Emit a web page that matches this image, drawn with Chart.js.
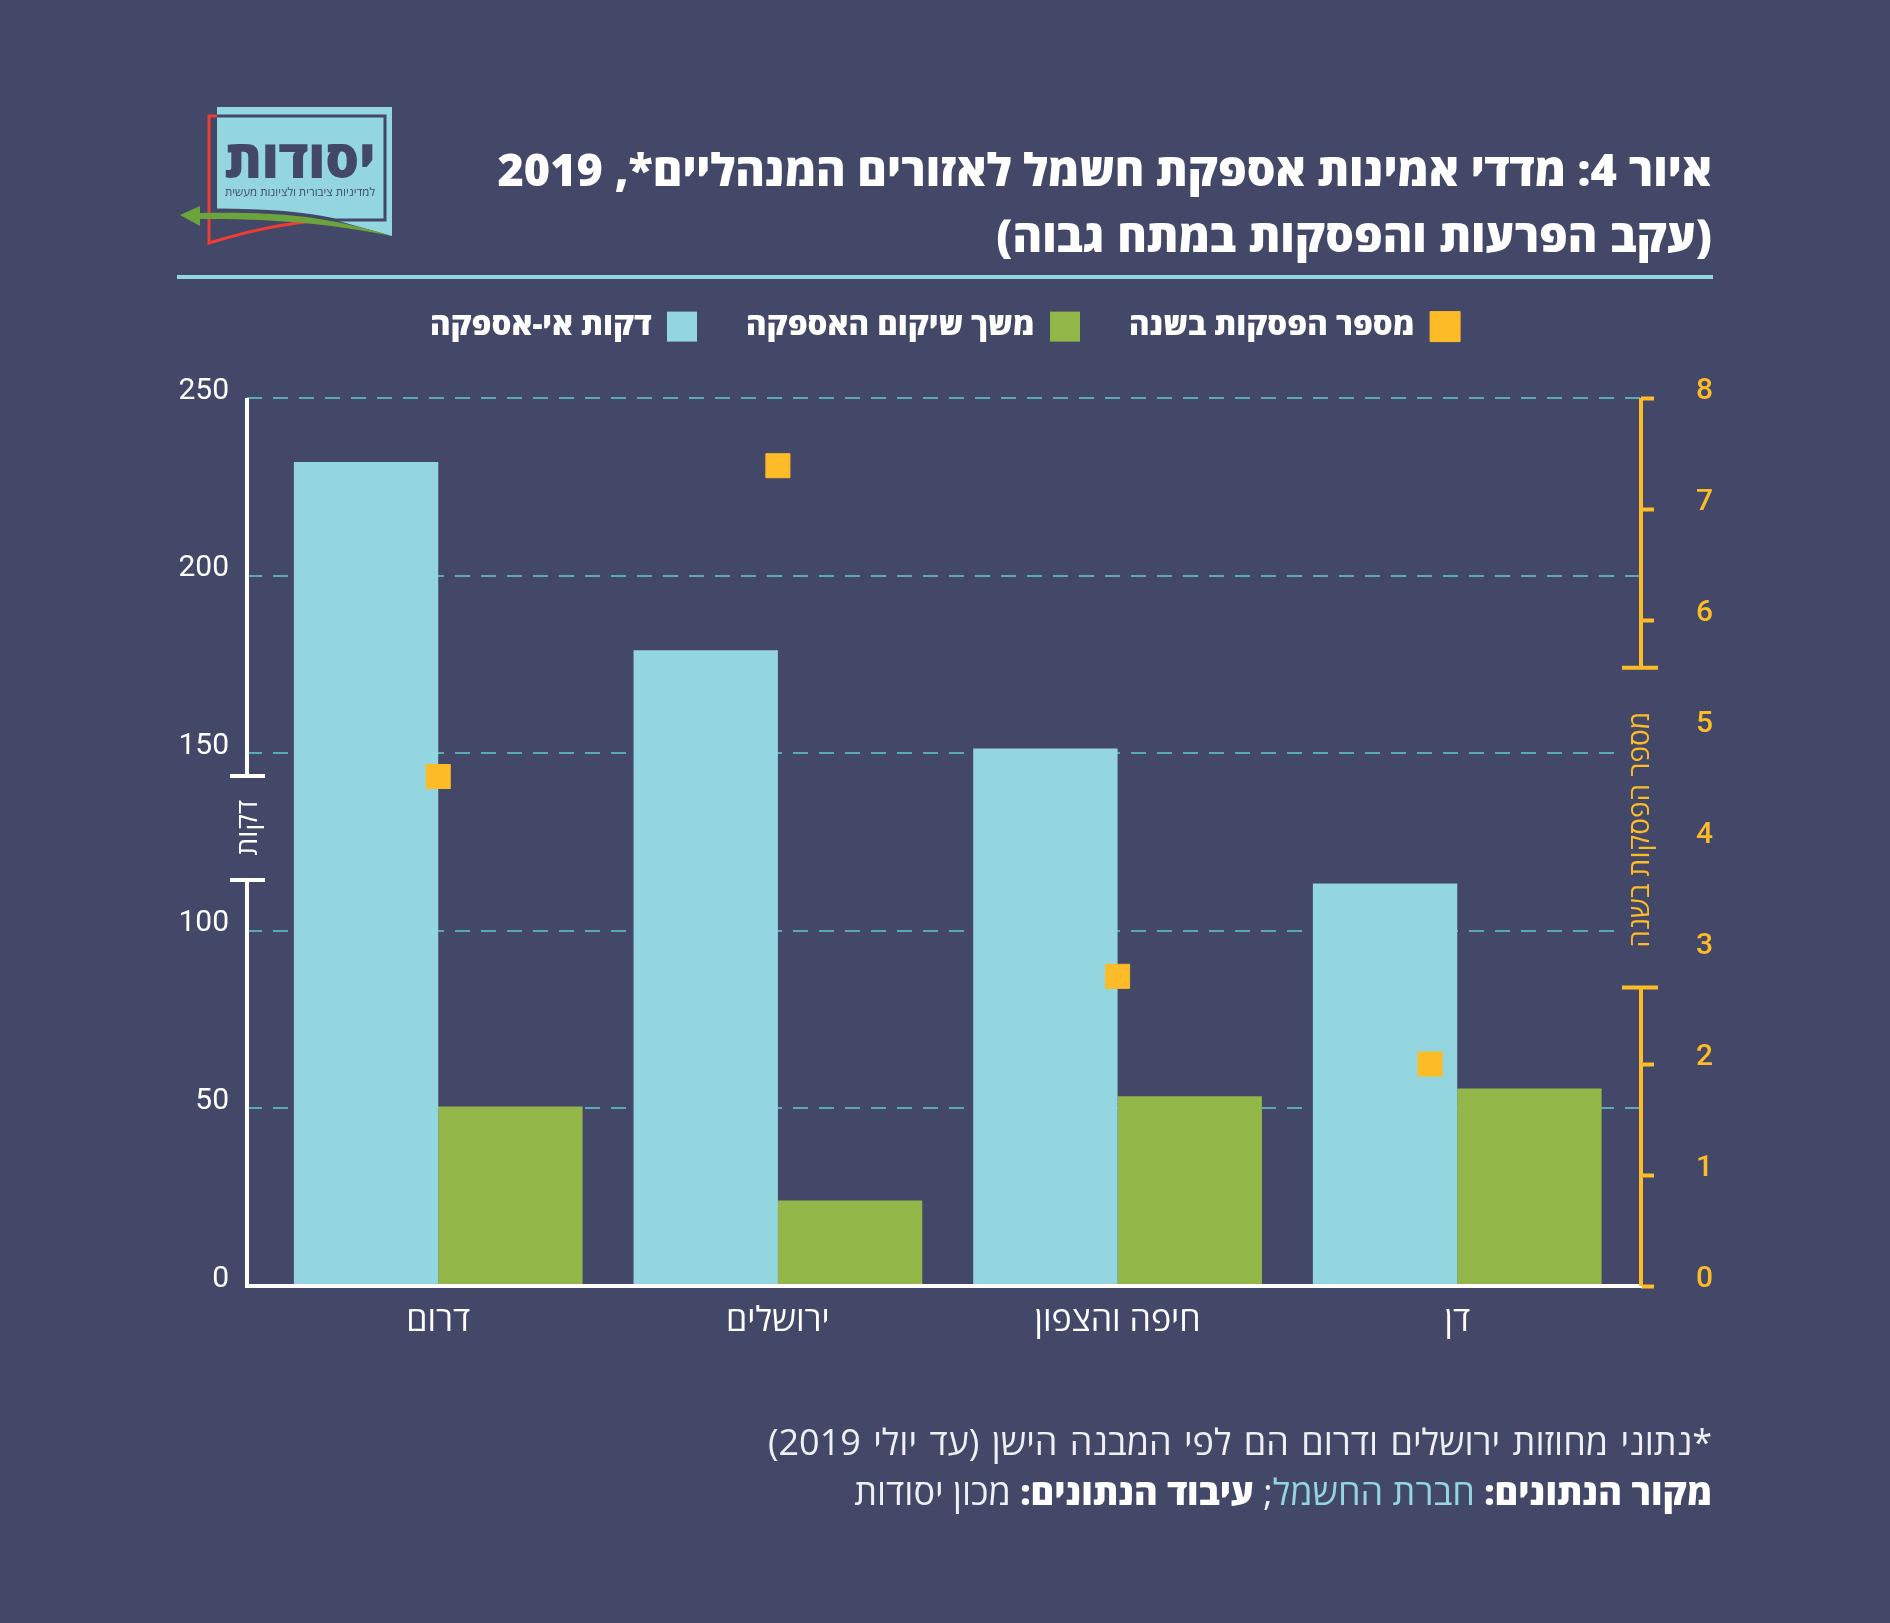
<!DOCTYPE html>
<html lang="he">
<head>
<meta charset="utf-8">
<script src="https://cdn.jsdelivr.net/npm/chart.js@4/dist/chart.umd.min.js"></script>
<style>
    html, body { margin: 0; background: #434868; }
    #page { position: relative; width: 1890px; height: 1623px; overflow: hidden; font-family: Roboto, "Open Sans", sans-serif; color: #fff; }
    #chart { position: absolute; left: 0; top: 0; }
    .title { position: absolute; right: 178px; top: 136px; direction: rtl; white-space: nowrap; font-family: "Open Sans", sans-serif; font-weight: 800; font-size: 45px; line-height: 66px; text-align: right; }
    .title .sub { word-spacing: 1px; }
    .rule { position: absolute; left: 177px; top: 275px; width: 1536px; height: 4px; background: #93d6e0; }
    .notes { position: absolute; right: 178px; top: 1417px; direction: rtl; white-space: nowrap; font-family: "Open Sans", sans-serif; font-size: 36px; line-height: 50px; text-align: right; color: #eef0f4; }
    .notes .first { word-spacing: 3px; }
    .notes b { font-weight: 800; color: #fff; }
    .notes span.src { color: #93d6e0; }
    #logo { position: absolute; left: 170px; top: 100px; }
</style>
</head>
<body>
<div id="page">
    <canvas id="chart" width="1890" height="1623"></canvas>
    <svg id="logo" width="230" height="150" viewBox="170 100 230 150">
        <path d="M217 107H392V236L335 220C300 212 260 210 217 210Z" fill="#93d6e0"/>
        <path d="M217 116H385V220H335C300 212 260 210 217 210" fill="none" stroke="#434868" stroke-width="3"/>
        <path d="M217 116H209V243C245 232 280 224 315 221" fill="none" stroke="#ee3d33" stroke-width="3"/>
        <path d="M180 215L200 206V213C270 212 320 214 392 236C320 222 270 219 200 219V226Z" fill="#6ba33c"/>
        <text x="300" y="178" direction="rtl" text-anchor="middle" font-family="Open Sans" font-weight="800" font-size="53" fill="#434868">יסודות</text>
        <text x="300" y="196" direction="rtl" text-anchor="middle" font-family="Open Sans" font-size="11.5" fill="#434868">למדיניות ציבורית ולציונות מעשית</text>
    </svg>
    <div class="title">איור 4: מדדי אמינות אספקת חשמל לאזורים המנהליים*, 2019<br><span class="sub">(עקב הפרעות והפסקות במתח גבוה)</span></div>
    <div class="rule"></div>
    <div class="notes"><span class="first">*נתוני מחוזות ירושלים ודרום הם לפי המבנה הישן (עד יולי 2019)</span><br><b>מקור הנתונים:</b> <span class="src">חברת החשמל</span>; <b>עיבוד הנתונים:</b> מכון יסודות</div>
</div>
<script>
const categories = ['דרום', 'ירושלים', 'חיפה והצפון', 'דן'];
const outageMinutes = [232, 179, 151.3, 113.3];
const restoreMinutes = [50.5, 24.1, 53.4, 55.6];
const outagesPerYear = [4.59, 7.39, 2.79, 2.0];
// the last square sits left of its group centre in the original
const outageSlots = [0, 1, 2, 2.92];

const minutesTicks = [0, 50, 100, 150, 200, 250];
const outageTicks = [0, 1, 2, 3, 4, 5, 6, 7, 8];

const BG = '#434868';
const BLUE = '#93d6e0';
const GREEN = '#92b648';
const YELLOW = '#fdbb27';
const TITLE_FONT = '"Open Sans", sans-serif';

// the two axes are broken around their titles
const brokenAxes = {
    id: 'brokenAxes',
    beforeLayout(chart) {
        // legend.update() never calls afterFit, so pin the height through fit
        const legend = chart.legend;
        if (!legend.pinned) {
            const fit = legend.fit;
            legend.fit = function () {
                fit.call(this);
                this.height = 136;
            };
            legend.pinned = true;
        }
    },
    beforeDatasetsDraw(chart) {
        const y1 = chart.scales.y1;
        const ctx = chart.ctx;
        ctx.save();
        ctx.fillStyle = BG;
        ctx.fillRect(1618, y1.getPixelForValue(5.57), 50, y1.getPixelForValue(2.69) - y1.getPixelForValue(5.57));
        ctx.restore();
    },
    afterDraw(chart) {
        const { y, y1 } = chart.scales;
        const ctx = chart.ctx;
        const left = chart.chartArea.left;
        const right = chart.chartArea.right;
        ctx.save();
        ctx.lineWidth = 4;

        ctx.strokeStyle = '#fff';
        ctx.beginPath();
        ctx.moveTo(left, y.getPixelForValue(250));
        ctx.lineTo(left, y.getPixelForValue(143.6));
        ctx.moveTo(left - 17, y.getPixelForValue(143.6));
        ctx.lineTo(left + 18, y.getPixelForValue(143.6));
        ctx.moveTo(left - 17, y.getPixelForValue(114.3));
        ctx.lineTo(left + 18, y.getPixelForValue(114.3));
        ctx.moveTo(left, y.getPixelForValue(114.3));
        ctx.lineTo(left, y.getPixelForValue(0) + 2);
        ctx.stroke();

        ctx.strokeStyle = YELLOW;
        ctx.beginPath();
        ctx.moveTo(right, y1.getPixelForValue(8));
        ctx.lineTo(right, y1.getPixelForValue(5.57));
        ctx.moveTo(right - 19, y1.getPixelForValue(5.57));
        ctx.lineTo(right + 17, y1.getPixelForValue(5.57));
        ctx.moveTo(right - 19, y1.getPixelForValue(2.69));
        ctx.lineTo(right + 17, y1.getPixelForValue(2.69));
        ctx.moveTo(right, y1.getPixelForValue(2.69));
        ctx.lineTo(right, y1.getPixelForValue(0));
        ctx.stroke();

        ctx.textAlign = 'center';
        ctx.textBaseline = 'middle';
        ctx.direction = 'rtl';
        ctx.save();
        ctx.translate(left + 2, y.getPixelForValue(129));
        ctx.rotate(-Math.PI / 2);
        ctx.fillStyle = '#fff';
        ctx.font = '28px ' + TITLE_FONT;
        ctx.fillText('דקות', 0, 0);
        ctx.restore();
        ctx.save();
        ctx.translate(right, y1.getPixelForValue(4.11));
        ctx.rotate(-Math.PI / 2);
        ctx.fillStyle = YELLOW;
        ctx.font = '28px ' + TITLE_FONT;
        ctx.fillText('מספר הפסקות בשנה', 0, 0);
        ctx.restore();
        ctx.restore();
    }
};

const ctx = document.getElementById('chart').getContext('2d');
const chart = new Chart(ctx, {
    type: 'bar',
    data: {
        datasets: [{
            label: 'דקות אי-אספקה',
            data: outageMinutes.map((v, i) => ({ x: i, y: v })),
            backgroundColor: BLUE,
            yAxisID: 'y',
            order: 1
        }, {
            label: 'משך שיקום האספקה',
            data: restoreMinutes.map((v, i) => ({ x: i, y: v })),
            backgroundColor: GREEN,
            yAxisID: 'y',
            order: 1
        }, {
            type: 'scatter',
            label: 'מספר הפסקות בשנה',
            data: outagesPerYear.map((v, i) => ({ x: outageSlots[i], y: v })),
            backgroundColor: YELLOW,
            borderColor: YELLOW,
            pointStyle: 'rect',
            pointRadius: 17,
            yAxisID: 'y1',
            order: 0
        }]
    },
    options: {
        responsive: false,
        animation: false,
        devicePixelRatio: 1,
        categoryPercentage: 0.85,
        barPercentage: 1,
        layout: { padding: { top: 262, right: 0, left: 0, bottom: 0 } },
        plugins: {
            tooltip: { enabled: false },
            legend: {
                position: 'top',
                rtl: true,
                textDirection: 'rtl',
                labels: {
                    boxWidth: 30,
                    boxHeight: 30,
                    padding: 49,
                    color: '#fff',
                    font: { family: TITLE_FONT, size: 31.2, weight: '800' },
                    sort: (a, b) => b.datasetIndex - a.datasetIndex
                }
            }
        },
        scales: {
            x: {
                type: 'linear',
                offset: false,
                min: -0.563,
                max: 3.541,
                afterFit: (scale) => { scale.height = 337; },
                grid: { display: false, drawTicks: false },
                border: { color: '#fff', width: 4, z: 1 },
                ticks: {
                    stepSize: 1,
                    includeBounds: false,
                    autoSkip: false,
                    maxRotation: 0,
                    padding: 15,
                    color: '#fff',
                    font: { family: TITLE_FONT, size: 34, weight: '500' },
                    callback: (value) => categories[value]
                }
            },
            y: {
                position: 'left',
                min: minutesTicks[0],
                max: minutesTicks[minutesTicks.length - 1],
                afterFit: (scale) => { scale.width = 247; },
                border: { display: false, dash: [15, 11] },
                grid: { color: '#5aa9b8', lineWidth: 2, drawTicks: false },
                ticks: {
                    stepSize: 50,
                    padding: 18,
                    labelOffset: -7,
                    color: '#fff',
                    font: { family: 'Roboto', size: 30 }
                }
            },
            y1: {
                position: 'right',
                min: outageTicks[0],
                max: outageTicks[outageTicks.length - 1],
                afterFit: (scale) => { scale.width = 249; },
                border: { display: false },
                grid: {
                    drawOnChartArea: false,
                    tickLength: 13,
                    tickWidth: 4,
                    tickColor: (c) => (c.tick.value >= 3 && c.tick.value <= 5 ? 'transparent' : YELLOW)
                },
                ticks: {
                    stepSize: 1,
                    padding: 42,
                    labelOffset: -7,
                    color: YELLOW,
                    font: { family: 'Roboto', size: 30, weight: '500' }
                }
            }
        }
    },
    plugins: [brokenAxes]
});
</script>
</body>
</html>
